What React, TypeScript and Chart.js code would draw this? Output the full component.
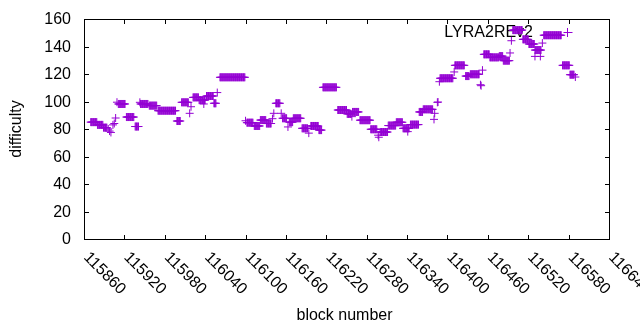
import React, { useEffect, useRef } from "react";
import { Chart, registerables } from "chart.js";

Chart.register(...registerables);

// Runs of blocks sharing the same difficulty (start block, end block, difficulty)
const runStart = [
  115870, 115880, 115889, 115911, 115923, 115936, 115944, 115957, 115970, 115998,
  116005, 116022, 116031, 116042, 116053, 116062, 116102, 116113, 116122, 116131,
  116145, 116155, 116165, 116171, 116184, 116197, 116209, 116215, 116237, 116251,
  116259, 116270, 116286, 116300, 116312, 116324, 116334, 116345, 116358, 116364,
  116389, 116411, 116427, 116434, 116454, 116463, 116477, 116483, 116497, 116512,
  116521, 116530, 116543, 116571, 116582,
];
const runEnd = [
  115879, 115888, 115894, 115921, 115934, 115941, 115955, 115968, 115996, 116003,
  116015, 116030, 116040, 116052, 116056, 116099, 116111, 116121, 116130, 116138,
  116151, 116161, 116170, 116182, 116192, 116208, 116213, 116235, 116250, 116257,
  116268, 116285, 116295, 116311, 116323, 116333, 116343, 116357, 116363, 116378,
  116408, 116425, 116432, 116447, 116462, 116476, 116482, 116492, 116511, 116520,
  116529, 116539, 116569, 116581, 116588,
];
const runDifficulty = [
  85, 83, 81, 98.2, 88.7, 81.8, 98.2, 97, 93.3, 85.8,
  99.4, 103, 101, 104, 98.7, 117.6, 84.6, 82.2, 86.5, 84,
  98.7, 87.8, 85, 87.8, 80.5, 82.2, 79.2, 110.3, 93.8, 91,
  92.4, 86.4, 79.8, 77.8, 82.5, 84.9, 80.5, 83.2, 92.4, 94.3,
  116.9, 126.3, 118.5, 119.8, 134.3, 132.1, 133, 129.7, 151.9, 145.2,
  141.8, 137.4, 148.2, 126.3, 119.5,
];

// Individual blocks
const singleBlock = [
  115896, 115898, 115900, 115903, 115905, 115907, 115909, 115943, 116017, 116019,
  116038, 116058, 116100, 116140, 116142, 116153, 116163, 116194, 116258, 116297,
  116298, 116341, 116380, 116381, 116385, 116386, 116388, 116410, 116449, 116450,
  116452, 116493, 116495, 116530, 116538, 116541, 116590,
];
const singleDifficulty = [
  80, 78.5, 77.5, 83, 84, 88, 99.5, 99.4, 91.4, 96.2,
  98.2, 106.5, 86, 87.5, 91.4, 91.4, 81.5, 77, 89, 75.5,
  74, 78.1, 87, 91.4, 99.4, 99.6, 114.4, 121.5, 112.2, 111.5,
  122.8, 135.3, 144.2, 132.8, 132.8, 142.5, 117.8,
];

const xTicks = [115860, 115920, 115980, 116040, 116100, 116160, 116220, 116280, 116340, 116400, 116460, 116520, 116580, 116640];
const yTicks = [0, 20, 40, 60, 80, 100, 120, 140, 160];
const seriesName = "LYRA2REv2";
const xTitle = "block number";
const yTitle = "difficulty";

const COLOR = "#9400d3";
const FONT = '16px "Liberation Sans", Arial, sans-serif';

export default function App() {
  const ref = useRef<HTMLCanvasElement | null>(null);

  useEffect(() => {
    const canvas = ref.current;
    if (!canvas) return;
    const points: { x: number; y: number }[] = [];
    runStart.forEach((s, i) => {
      for (let b = s; b <= runEnd[i]; b++) points.push({ x: b, y: runDifficulty[i] });
    });
    singleBlock.forEach((b, i) => points.push({ x: b, y: singleDifficulty[i] }));

    const frame = {
      id: "gnuframe",
      beforeDatasetsDraw(chart: any) {
        const ctx = chart.ctx as CanvasRenderingContext2D;
        const xs = chart.scales.x;
        const ys = chart.scales.y;
        const a = chart.chartArea;
        const L = Math.round(a.left), R = Math.round(a.right), T = Math.round(a.top), B = Math.round(a.bottom);
        ctx.save();
        ctx.strokeStyle = "#000";
        ctx.lineWidth = 1;
        ctx.fillStyle = "#000";
        ctx.font = FONT;
        // ticks
        ctx.beginPath();
        yTicks.forEach((v) => {
          const py = Math.round(ys.getPixelForValue(v)) + 0.5;
          ctx.moveTo(L, py); ctx.lineTo(L + 5, py);
          ctx.moveTo(R + 1, py); ctx.lineTo(R - 4, py);
        });
        xTicks.forEach((v) => {
          const px = Math.round(xs.getPixelForValue(v)) + 0.5;
          ctx.moveTo(px, B + 1); ctx.lineTo(px, B - 4);
          ctx.moveTo(px, T); ctx.lineTo(px, T + 5);
        });
        ctx.stroke();
        ctx.strokeRect(L + 0.5, T + 0.5, R - L, B - T);
        // y labels
        ctx.textAlign = "right";
        ctx.textBaseline = "middle";
        yTicks.forEach((v) => {
          ctx.fillText(String(v), L - 13, ys.getPixelForValue(v) + 1);
        });
        // x labels rotated
        ctx.textAlign = "left";
        xTicks.forEach((v) => {
          const px = xs.getPixelForValue(v);
          ctx.save();
          ctx.translate(px + 2, B + 16);
          ctx.rotate(Math.PI / 4);
          ctx.fillText(String(v), 0, 0);
          ctx.restore();
        });
        // titles
        ctx.textAlign = "center";
        ctx.fillText(xTitle, (L + R) / 2 - 2, 316);
        ctx.save();
        ctx.translate(17, (T + B) / 2);
        ctx.rotate(-Math.PI / 2);
        ctx.fillText(yTitle, 0, 0);
        ctx.restore();
        // key
        ctx.textAlign = "right";
        ctx.fillText(seriesName, 533, 33);
        ctx.strokeStyle = COLOR;
        ctx.beginPath();
        ctx.moveTo(563.5, 32.5); ctx.lineTo(572.5, 32.5);
        ctx.moveTo(567.5, 28); ctx.lineTo(567.5, 37);
        ctx.stroke();
        ctx.restore();
      },
    };

    const chart = new Chart(canvas, {
      type: "scatter",
      data: {
        datasets: [
          {
            label: seriesName,
            data: points,
            pointStyle: "cross",
            pointRadius: 4,
            pointBorderWidth: 1,
            pointBorderColor: COLOR,
            pointBackgroundColor: COLOR,
            borderColor: COLOR,
            showLine: false,
          },
        ],
      },
      options: {
        responsive: false,
        animation: false,
        events: [],
        layout: { padding: { left: 84, right: 31, top: 19, bottom: 91 } },
        scales: {
          x: { type: "linear", min: 115860, max: 116640, display: false },
          y: { type: "linear", min: 0, max: 160, display: false },
        },
        plugins: { legend: { display: false }, tooltip: { enabled: false } },
      },
      plugins: [frame],
    });
    return () => chart.destroy();
  }, []);

  return (
    <div style={{ position: "absolute", left: 0, top: 0, width: 640, height: 330, background: "#fff" }}>
      <canvas ref={ref} width={640} height={330} style={{ display: "block" }} />
    </div>
  );
}
